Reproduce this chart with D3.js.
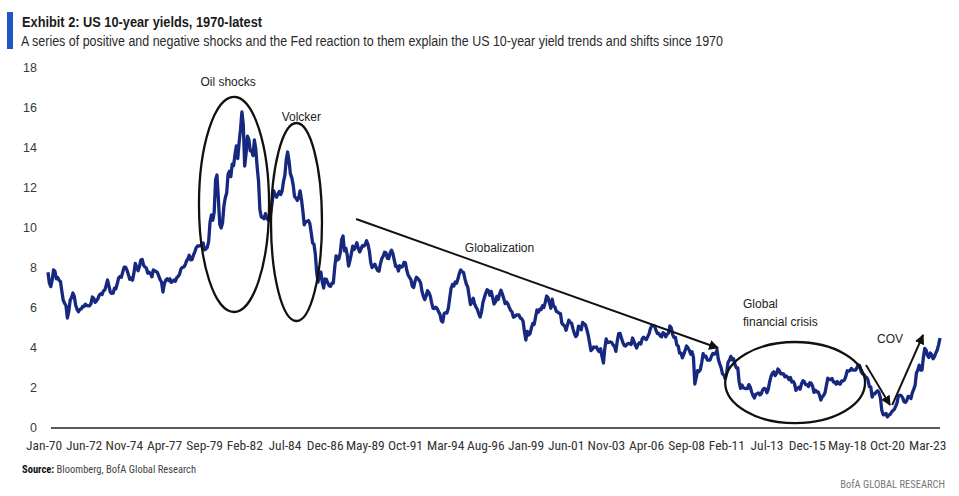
<!DOCTYPE html>
<html>
<head>
<meta charset="utf-8">
<script src="https://cdn.jsdelivr.net/npm/d3@7"></script>
<style>
  html, body { margin: 0; padding: 0; background: #fff; }
  svg { display: block; }
</style>
</head>
<body>
<svg id="chart" width="959" height="496"></svg>
<script>
// ---------- DATA ----------
const startYear = 1970; // monthly data, starting Jan-1970
const monthlyYields = [
  7.79, 7.24, 7.07, 7.39, 7.91, 7.84, 7.46, 7.53, 7.39, 7.33, 6.84, 6.39, // 1970
  6.24, 6.11, 5.50, 5.83, 6.39, 6.52, 6.75, 6.58, 6.14, 5.93, 5.81, 5.93, // 1971
  5.95, 6.08, 6.07, 6.19, 6.13, 6.11, 6.11, 6.21, 6.55, 6.48, 6.28, 6.36, // 1972
  6.46, 6.64, 6.71, 6.67, 6.85, 6.90, 7.13, 7.40, 7.09, 6.79, 6.73, 6.74, // 1973
  6.99, 6.96, 7.21, 7.51, 7.58, 7.54, 7.81, 8.04, 8.04, 7.90, 7.68, 7.43, // 1974
  7.50, 7.39, 7.73, 8.23, 8.06, 7.86, 8.06, 8.40, 8.43, 8.14, 8.05, 8.00, // 1975
  7.74, 7.79, 7.73, 7.56, 7.90, 7.86, 7.83, 7.77, 7.59, 7.41, 7.29, 6.80, // 1976
  7.21, 7.39, 7.46, 7.37, 7.46, 7.28, 7.33, 7.40, 7.34, 7.52, 7.58, 7.69, // 1977
  7.96, 8.03, 8.04, 8.15, 8.35, 8.46, 8.64, 8.41, 8.42, 8.64, 8.81, 9.01, // 1978
  9.10, 9.10, 9.12, 9.18, 9.25, 8.91, 8.95, 9.03, 9.33, 10.30, 10.65, 10.39, // 1979
  10.80, 12.41, 12.65, 11.47, 10.18, 10.00, 10.25, 11.10, 11.51, 11.75, 12.68, 12.84, // 1980
  12.57, 13.19, 13.12, 13.68, 14.10, 13.47, 14.28, 14.94, 15.80, 15.15, 13.10, 13.72, // 1981
  14.59, 14.43, 13.86, 13.87, 13.62, 14.40, 13.95, 13.06, 12.34, 10.91, 10.55, 10.54, // 1982
  10.46, 10.72, 10.51, 10.40, 10.38, 10.85, 11.38, 11.85, 11.65, 11.54, 11.69, 11.83, // 1983
  11.67, 11.84, 12.32, 12.63, 13.41, 13.80, 13.36, 12.72, 12.52, 12.16, 11.57, 11.50, // 1984
  11.38, 11.51, 11.86, 11.43, 10.85, 10.16, 10.31, 10.33, 10.37, 10.24, 9.78, 9.26, // 1985
  9.19, 8.70, 7.78, 7.30, 7.71, 7.80, 7.30, 7.00, 7.45, 7.43, 7.25, 7.11, // 1986
  7.08, 7.25, 7.25, 8.02, 8.61, 8.40, 8.45, 8.76, 9.42, 9.60, 8.86, 8.99, // 1987
  8.67, 8.10, 8.37, 8.72, 9.09, 8.92, 9.06, 9.26, 8.98, 8.80, 8.96, 9.11, // 1988
  9.09, 9.17, 9.36, 9.18, 8.86, 8.28, 8.02, 8.11, 8.19, 8.01, 7.87, 7.84, // 1989
  8.21, 8.47, 8.59, 8.79, 8.76, 8.48, 8.47, 8.75, 8.89, 8.72, 8.39, 8.08, // 1990
  8.09, 7.85, 8.11, 8.04, 8.07, 8.28, 8.27, 7.90, 7.65, 7.53, 7.42, 7.09, // 1991
  7.03, 7.34, 7.54, 7.48, 7.39, 7.26, 6.84, 6.59, 6.42, 6.59, 6.87, 6.77, // 1992
  6.60, 6.26, 5.98, 5.97, 6.04, 5.96, 5.81, 5.68, 5.36, 5.30, 5.72, 5.77, // 1993
  5.75, 5.97, 6.48, 6.97, 7.18, 7.10, 7.30, 7.24, 7.46, 7.74, 7.90, 7.81, // 1994
  7.78, 7.47, 7.20, 7.06, 6.63, 6.17, 6.28, 6.49, 6.20, 6.04, 5.93, 5.71, // 1995
  5.55, 5.81, 6.27, 6.51, 6.74, 6.91, 6.87, 6.64, 6.83, 6.53, 6.20, 6.30, // 1996
  6.58, 6.42, 6.69, 6.89, 6.71, 6.49, 6.22, 6.30, 6.21, 6.03, 5.88, 5.81, // 1997
  5.54, 5.57, 5.65, 5.64, 5.65, 5.50, 5.46, 5.34, 4.81, 4.40, 4.83, 4.65, // 1998
  4.72, 5.00, 5.23, 5.18, 5.54, 5.90, 5.79, 5.94, 5.92, 6.11, 6.03, 6.28, // 1999
  6.60, 6.52, 6.26, 5.99, 6.44, 6.10, 6.05, 5.83, 5.80, 5.74, 5.72, 5.24, // 2000
  5.16, 5.10, 4.89, 5.14, 5.39, 5.28, 5.24, 4.97, 4.73, 4.57, 4.65, 5.09, // 2001
  5.04, 4.91, 5.28, 5.21, 5.16, 4.93, 4.65, 4.26, 3.87, 3.94, 4.05, 4.03, // 2002
  4.05, 3.90, 3.81, 3.96, 3.57, 3.25, 3.98, 4.45, 4.27, 4.29, 4.30, 4.27, // 2003
  4.15, 4.08, 3.83, 4.35, 4.72, 4.73, 4.50, 4.28, 4.13, 4.10, 4.19, 4.23, // 2004
  4.22, 4.17, 4.50, 4.34, 4.14, 4.00, 4.18, 4.26, 4.20, 4.46, 4.54, 4.47, // 2005
  4.42, 4.57, 4.72, 4.99, 5.11, 5.11, 5.09, 4.88, 4.72, 4.73, 4.60, 4.56, // 2006
  4.76, 4.72, 4.56, 4.69, 4.75, 5.10, 5.00, 4.67, 4.52, 4.53, 4.15, 4.10, // 2007
  3.74, 3.74, 3.51, 3.68, 3.88, 4.10, 4.01, 3.89, 3.69, 3.81, 3.53, 2.20, // 2008
  2.52, 2.87, 2.82, 2.93, 3.29, 3.72, 3.56, 3.59, 3.40, 3.39, 3.40, 3.59, // 2009
  3.73, 3.69, 3.73, 3.90, 3.42, 3.20, 3.01, 2.70, 2.65, 2.45, 2.76, 3.29, // 2010
  3.39, 3.58, 3.41, 3.46, 3.17, 3.00, 3.00, 2.30, 1.98, 2.15, 2.01, 1.98, // 2011
  1.97, 1.97, 2.17, 2.05, 1.80, 1.62, 1.50, 1.68, 1.72, 1.75, 1.65, 1.72, // 2012
  1.91, 1.98, 1.96, 1.76, 1.93, 2.30, 2.58, 2.74, 2.81, 2.62, 2.72, 2.95, // 2013
  2.86, 2.71, 2.72, 2.71, 2.56, 2.60, 2.54, 2.42, 2.53, 2.30, 2.33, 2.21, // 2014
  1.88, 1.98, 2.04, 1.94, 2.20, 2.36, 2.32, 2.17, 2.17, 2.07, 2.26, 2.24, // 2015
  2.09, 1.78, 1.89, 1.81, 1.81, 1.64, 1.40, 1.56, 1.63, 1.76, 2.14, 2.49, // 2016
  2.43, 2.42, 2.48, 2.30, 2.30, 2.19, 2.32, 2.21, 2.20, 2.36, 2.35, 2.40, // 2017
  2.58, 2.86, 2.84, 2.87, 2.98, 2.91, 2.89, 2.89, 3.00, 3.15, 3.12, 2.83, // 2018
  2.71, 2.68, 2.57, 2.53, 2.40, 2.07, 2.06, 1.55, 1.70, 1.71, 1.81, 1.86, // 2019
  1.76, 1.50, 0.87, 0.66, 0.67, 0.73, 0.55, 0.65, 0.68, 0.79, 0.87, 0.93, // 2020
  1.08, 1.26, 1.61, 1.64, 1.62, 1.52, 1.32, 1.28, 1.37, 1.58, 1.56, 1.47, // 2021
  1.76, 1.93, 2.13, 2.75, 2.90, 3.14, 2.90, 2.90, 3.52, 3.98, 3.89, 3.62, // 2022
  3.53, 3.75, 3.66, 3.46, 3.57, 3.75, 3.90, 4.17, 4.50                    // 2023
];
const xTickLabels = ["Jan-70","Jun-72","Nov-74","Apr-77","Sep-79","Feb-82","Jul-84","Dec-86",
  "May-89","Oct-91","Mar-94","Aug-96","Jan-99","Jun-01","Nov-03","Apr-06","Sep-08","Feb-11",
  "Jul-13","Dec-15","May-18","Oct-20","Mar-23"];
const xTickStepMonths = 29;
const yTickValues = [0, 2, 4, 6, 8, 10, 12, 14, 16, 18];

// annotations in data units (month index, yield)
const ellipseNotes = [
  { cx: 134.3, cy: 11.18, rx: 25.3, ry: 5.38 },  // Oil shocks
  { cx: 179.4, cy: 10.30, rx: 18.4, ry: 4.95 },  // Volcker
  { cx: 539.4, cy: 2.27,  rx: 50.5, ry: 2.03 }   // GFC
];
const arrowNotes = [
  { x1: 222.4, y1: 10.45, x2: 483.8, y2: 4.00 }, // Globalization
  { x1: 590.6, y1: 3.15,  x2: 607.9, y2: 1.15 }, // COV down
  { x1: 609.5, y1: 1.15,  x2: 631.8, y2: 4.65 }  // COV up
];
const textNotes = [
  { m: 130.0, v: 17.1,  lines: ["Oil shocks"], anchor: "middle" },
  { m: 182.9, v: 15.35, lines: ["Volcker"], anchor: "middle" },
  { m: 326.0, v: 8.8,   lines: ["Globalization"], anchor: "middle" },
  { m: 501.8, v: 6.0,   lines: ["Global", "financial crisis"], anchor: "start" },
  { m: 598.5, v: 4.25,  lines: ["COV"], anchor: "start" }
];

// ---------- CHART ----------
const svg = d3.select("#chart");
const x = d3.scaleLinear().domain([0, monthlyYields.length - 1]).range([48, 940]);
const y = d3.scaleLinear().domain([0, 18]).range([428, 68]);

const FONT = "'Liberation Sans', Arial, sans-serif";
const NARROW = "'Liberation Sans Narrow', 'Roboto Condensed', Roboto, 'Liberation Sans', sans-serif";

// Title block
svg.append("rect").attr("x", 7).attr("y", 12).attr("width", 6).attr("height", 37).attr("fill", "#1e56c4");
svg.append("text").attr("x", 22).attr("y", 27)
  .attr("font-family", FONT).attr("font-weight", "bold").attr("font-size", 14.5)
  .attr("fill", "#1a1a1a").attr("textLength", 240).attr("lengthAdjust", "spacingAndGlyphs")
  .text("Exhibit 2: US 10-year yields, 1970-latest");
svg.append("text").attr("x", 21).attr("y", 46)
  .attr("font-family", FONT).attr("font-size", 14)
  .attr("fill", "#2a2a2a").attr("textLength", 702).attr("lengthAdjust", "spacingAndGlyphs")
  .text("A series of positive and negative shocks and the Fed reaction to them explain the US 10-year yield trends and shifts since 1970");

// Y axis labels
svg.append("g").selectAll("text").data(yTickValues).join("text")
  .attr("x", 37).attr("y", d => y(d)).attr("dy", "0.35em")
  .attr("text-anchor", "end").attr("font-family", FONT).attr("font-size", 12.5)
  .attr("fill", "#3a3a3a").text(d => d);

// X axis line
svg.append("line").attr("x1", 51).attr("x2", 940).attr("y1", y(0)).attr("y2", y(0))
  .attr("stroke", "#595959").attr("stroke-width", 2);

// X tick labels
svg.append("g").selectAll("text").data(xTickLabels).join("text")
  .attr("x", (d, i) => x(i * xTickStepMonths) - 4).attr("y", 450)
  .attr("text-anchor", "middle").attr("font-family", NARROW).attr("font-size", 13.5)
  .attr("fill", "#333").text(d => d);

// Line
const line = d3.line().x((d, i) => x(i)).y(d => y(d));
svg.append("path").datum(monthlyYields).attr("d", line)
  .attr("fill", "none").attr("stroke", "#16287f").attr("stroke-width", 3.3)
  .attr("stroke-linejoin", "round");

// Annotations
const kx = x(1) - x(0), ky = y(0) - y(1);
svg.append("g").selectAll("ellipse").data(ellipseNotes).join("ellipse")
  .attr("cx", d => x(d.cx)).attr("cy", d => y(d.cy))
  .attr("rx", d => d.rx * kx).attr("ry", d => d.ry * ky)
  .attr("fill", "none").attr("stroke", "#111").attr("stroke-width", 2.3);

svg.append("defs").append("marker").attr("id", "ah")
  .attr("viewBox", "0 0 10 10").attr("refX", 9).attr("refY", 5)
  .attr("markerWidth", 10).attr("markerHeight", 10).attr("markerUnits", "userSpaceOnUse")
  .attr("orient", "auto")
  .append("path").attr("d", "M0,0 L10,5 L0,10 Z").attr("fill", "#111");

svg.append("g").selectAll("line").data(arrowNotes).join("line")
  .attr("x1", d => x(d.x1)).attr("y1", d => y(d.y1))
  .attr("x2", d => x(d.x2)).attr("y2", d => y(d.y2))
  .attr("stroke", "#111").attr("stroke-width", 1.9).attr("marker-end", "url(#ah)");

const tn = svg.append("g").selectAll("text").data(textNotes).join("text")
  .attr("x", d => x(d.m)).attr("y", d => y(d.v))
  .attr("text-anchor", d => d.anchor).attr("font-family", FONT).attr("font-size", 12)
  .attr("fill", "#222");
tn.selectAll("tspan").data(d => d.lines.map(l => ({ l, m: d.m }))).join("tspan")
  .attr("x", d => x(d.m)).attr("dy", (d, i) => i === 0 ? 0 : 18).text(d => d.l);

// Footer
const src = svg.append("text").attr("x", 22).attr("y", 473)
  .attr("font-family", NARROW).attr("font-size", 10.5).attr("fill", "#444");
src.append("tspan").attr("font-weight", "bold").attr("fill", "#111").text("Source:");
src.append("tspan").text("  Bloomberg, BofA Global Research");
svg.append("text").attr("x", 945).attr("y", 488).attr("text-anchor", "end")
  .attr("font-family", NARROW).attr("font-size", 10.5).attr("fill", "#777")
  .text("BofA GLOBAL RESEARCH");
</script>
</body>
</html>
